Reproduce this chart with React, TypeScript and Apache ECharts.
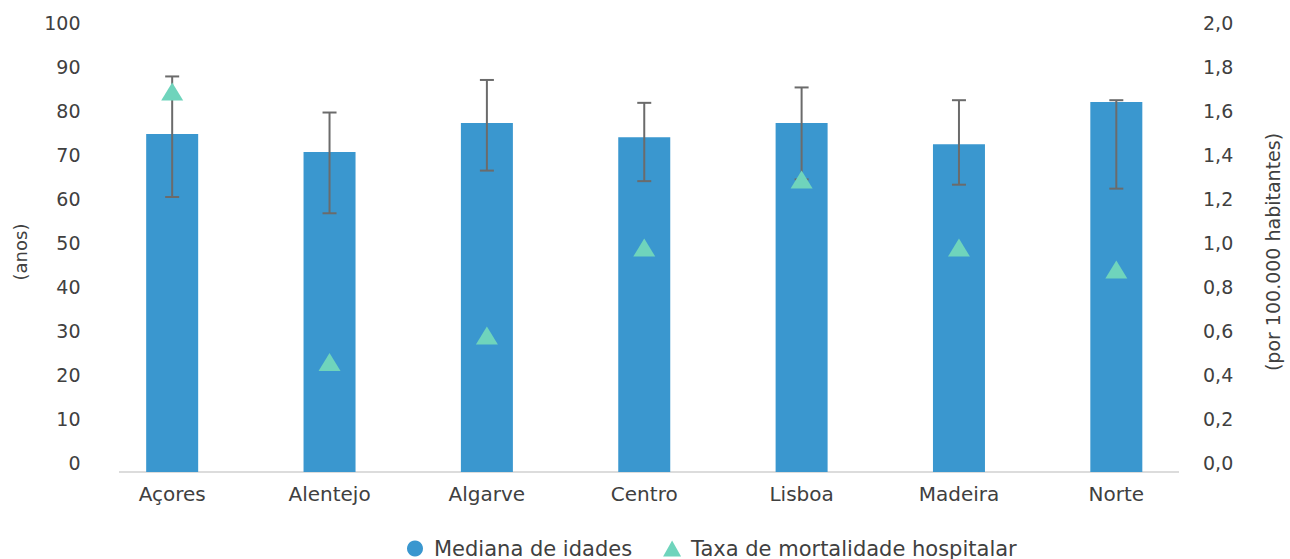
import React, { useEffect, useRef } from "react";
import * as echarts from "echarts";

// Regional data
const regions = ["Açores", "Alentejo", "Algarve", "Centro", "Lisboa", "Madeira", "Norte"];
const medianAge = [76.8, 72.7, 79.3, 76.1, 79.3, 74.5, 84.1];
const ageHigh = [89.9, 81.7, 89.1, 83.9, 87.4, 84.5, 84.5];
const ageLow = [62.5, 58.8, 68.5, 66.1, 66.5, 65.3, 64.4];
const mortalityRate = [1.73, 0.5, 0.62, 1.02, 1.33, 1.02, 0.92];

const FONT = "'DejaVu Sans', 'Open Sans', sans-serif";
const TEXT = "#404040";

export default function App() {
  const ref = useRef<HTMLDivElement>(null);

  useEffect(() => {
    if (!ref.current) return;
    const chart = echarts.init(ref.current, undefined, { renderer: "svg" });
    chart.setOption({
      animation: false,
      textStyle: { fontFamily: FONT, color: TEXT },
      grid: { left: 93.5, right: 88.5, top: 32, bottom: 87 },
      legend: {
        top: 533,
        left: 402,
        itemGap: 31,
        itemWidth: 18,
        itemHeight: 16,
        textStyle: { fontFamily: FONT, fontSize: 21, color: TEXT, padding: [0, 0, 0, 5] },
        data: [
          { name: "Mediana de idades", icon: "circle" },
          { name: "Taxa de mortalidade hospitalar", icon: "triangle" },
        ],
      },
      xAxis: {
        type: "category",
        data: regions,
        axisLine: { show: false },
        axisTick: { show: false },
        axisLabel: { fontSize: 20, color: TEXT, margin: 12, fontFamily: FONT },
      },
      yAxis: [
        {
          type: "value",
          min: 0,
          max: 100,
          interval: 10,
          name: "(anos)",
          nameLocation: "middle",
          nameRotate: 90,
          nameGap: 64,
          nameTextStyle: { fontSize: 18, color: TEXT, fontFamily: FONT },
          splitLine: { show: false },
          axisLine: { show: false },
          axisTick: { show: false },
          axisLabel: { fontSize: 19, color: TEXT, margin: 13, verticalAlign: "bottom", fontFamily: FONT },
        },
        {
          type: "value",
          min: 0,
          max: 2,
          interval: 0.2,
          position: "right",
          name: "(por 100.000 habitantes)",
          nameLocation: "middle",
          nameRotate: 90,
          nameGap: 68,
          nameTextStyle: { fontSize: 19, color: TEXT, fontFamily: FONT },
          splitLine: { show: false },
          axisLine: { show: false },
          axisTick: { show: false },
          axisLabel: {
            fontSize: 19,
            color: TEXT,
            margin: 8,
            verticalAlign: "bottom",
            fontFamily: FONT,
            formatter: (v: number) => v.toFixed(1).replace(".", ","),
          },
        },
      ],
      graphic: [
        {
          type: "line",
          shape: { x1: 119, y1: 472, x2: 1179, y2: 472 },
          style: { stroke: "#d0d0d0", lineWidth: 1.5 },
          z: 0,
        },
      ],
      series: [
        {
          name: "Mediana de idades",
          type: "bar",
          data: medianAge,
          barWidth: 52,
          itemStyle: { color: "#3a97cf" },
          z: 2,
        },
        {
          name: "Erro",
          type: "custom",
          data: regions.map((_, i) => [i, ageLow[i], ageHigh[i]]),
          renderItem: (params: any, api: any) => {
            const i = api.value(0);
            const top = api.coord([i, api.value(2)]);
            const bot = api.coord([i, api.value(1)]);
            const half = 7;
            const style = { stroke: "#6b6b6b", lineWidth: 2 };
            return {
              type: "group",
              children: [
                { type: "line", shape: { x1: top[0], y1: top[1], x2: bot[0], y2: bot[1] }, style },
                { type: "line", shape: { x1: top[0] - half, y1: top[1], x2: top[0] + half, y2: top[1] }, style },
                { type: "line", shape: { x1: bot[0] - half, y1: bot[1], x2: bot[0] + half, y2: bot[1] }, style },
              ],
            };
          },
          encode: { x: 0, y: [1, 2] },
          z: 3,
          silent: true,
        },
        {
          name: "Taxa de mortalidade hospitalar",
          type: "scatter",
          yAxisIndex: 1,
          data: mortalityRate,
          symbol: "triangle",
          symbolSize: [22, 18],
          itemStyle: { color: "#6fd4bc", opacity: 1 },
          z: 4,
        },
      ],
    });
    return () => chart.dispose();
  }, []);

  return (
    <div
      ref={ref}
      style={{ position: "fixed", left: 0, top: 0, width: 1290, height: 559, background: "#fff" }}
    />
  );
}
